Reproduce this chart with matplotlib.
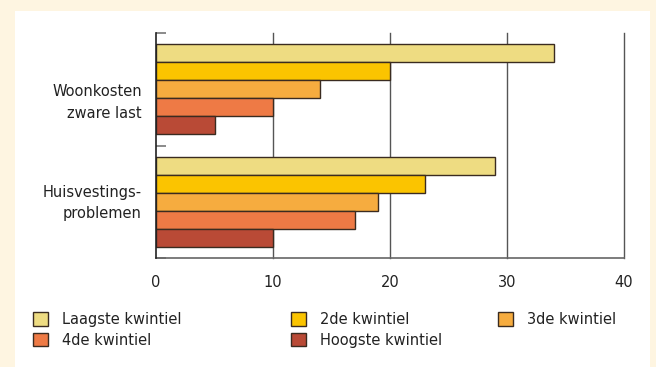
import matplotlib
matplotlib.use("Agg")
import matplotlib.pyplot as plt
from matplotlib.patches import Rectangle
import numpy as np

plt.rcParams['font.family'] = ['DejaVu Sans']

# data
categories = ['Woonkosten\nzware last', 'Huisvestings-\nproblemen']
series = ['Laagste kwintiel', '2de kwintiel', '3de kwintiel', '4de kwintiel', 'Hoogste kwintiel']
values = [
    [34, 29],   # Laagste kwintiel
    [20, 23],   # 2de kwintiel
    [14, 19],   # 3de kwintiel
    [10, 17],   # 4de kwintiel
    [5, 10],    # Hoogste kwintiel
]
colors = ['#EEDC82', '#FBC400', '#F6AC3F', '#EE7A45', '#B94A36']
xticks = [0, 10, 20, 30, 40]

fig = plt.figure(figsize=(6.56, 3.67), dpi=100)
fig.patch.set_facecolor('#FEF5E1')
# white panel
fig.patches.append(Rectangle((15 / 656, 0), (650 - 15) / 656, 1 - 11 / 367,
                             transform=fig.transFigure, facecolor='white',
                             edgecolor='none', zorder=-5))

ax = fig.add_axes([156 / 656, 1 - 258 / 367, (624 - 156) / 656, (258 - 33) / 367])
ax.set_facecolor('white')

bh = 0.16
y = np.arange(len(categories))
for i, (name, vals, c) in enumerate(zip(series, values, colors)):
    off = (i - 2) * bh
    ax.barh(y + off, vals, height=bh, color=c, edgecolor='#3a2b20',
            linewidth=1.0, label=name, zorder=3)

ax.set_xlim(0, 40)
ax.set_ylim(1.5, -0.5)
ax.set_xticks(xticks)
ax.set_xticklabels([str(t) for t in xticks], fontsize=10.5, color='#222222')
ax.tick_params(axis='x', length=0, pad=12)
for t in xticks[1:]:
    ax.axvline(t, color='#555555', lw=1.0, zorder=1, clip_on=False)

ax.set_yticks([-0.5, 0.5, 1.5])
ax.set_yticklabels([])
ax.tick_params(axis='y', direction='in', length=7.5, width=1.2, color='#777777')

for s in ['top', 'right']:
    ax.spines[s].set_visible(False)
ax.spines['left'].set_color('#222222')
ax.spines['left'].set_linewidth(1.2)
ax.spines['left'].set_zorder(4)
ax.spines['bottom'].set_color('#666666')
ax.spines['bottom'].set_linewidth(1.2)

label_y = [0.12, 0.01]
for yy, lab, dy in zip(y, categories, label_y):
    ax.text(-0.03, yy + dy, lab, transform=ax.get_yaxis_transform(),
            ha='right', va='center', fontsize=10.5, color='#222222',
            linespacing=1.55)

handles, labels = ax.get_legend_handles_labels()
cols = [[0, 3], [1, 4], [2]]
xs = [33 / 656, 291 / 656, 498 / 656]
for col, x0 in zip(cols, xs):
    leg = fig.legend([handles[k] for k in col], [labels[k] for k in col],
                     loc='upper left', bbox_to_anchor=(x0, 1 - 312 / 367),
                     frameon=False, fontsize=10.5, handlelength=1.0,
                     handleheight=1.0, handletextpad=1.0, labelspacing=0.4,
                     borderaxespad=0, borderpad=0)
    for txt in leg.get_texts():
        txt.set_color('#222222')

fig.savefig('out.png', dpi=100, facecolor=fig.get_facecolor())
